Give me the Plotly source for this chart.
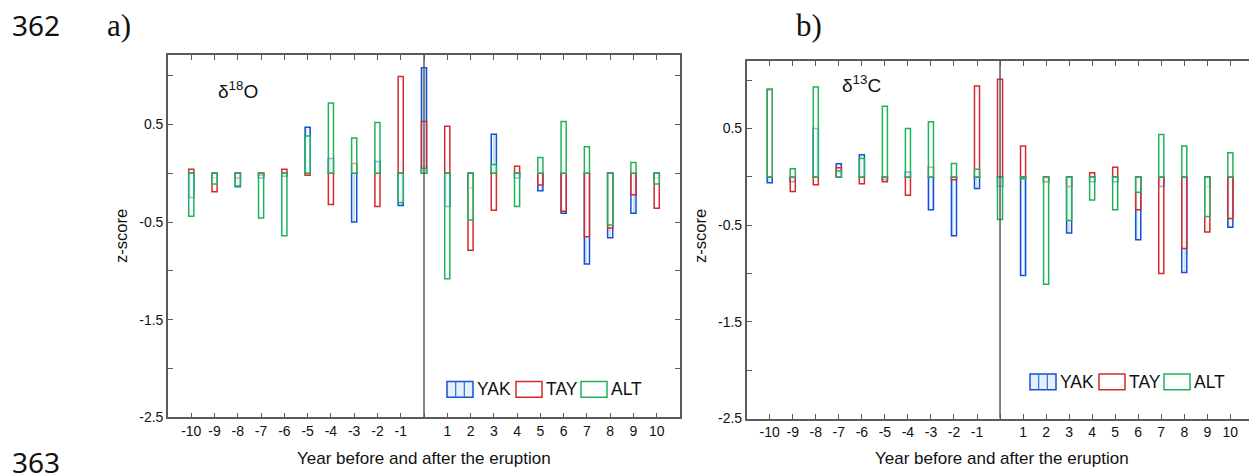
import plotly.graph_objects as go

W, H = 1249, 473

years = list(range(-10, 11))
label_years = [y for y in years if y != 0]
tick_labels = [str(y) for y in label_years]
ytick_vals = [-2.5, -1.5, -0.5, 0.5]
ytick_text = ["-2.5", "-1.5", "-0.5", "0.5"]
yminor_vals = [-2.0, -1.0, 0.0, 1.0]

# Panel a: delta 18O z-scores (years -10 .. 10)
o18_yak = [-0.25, -0.05, -0.14, -0.05, -0.03, 0.47, 0.15, -0.50, 0.12, -0.33, 1.08,
           -0.34, -0.15, 0.40, -0.05, -0.18, -0.41, -0.93, -0.66, -0.41, -0.05]
o18_tay = [0.04, -0.19, -0.05, -0.02, 0.04, -0.02, -0.32, 0.10, -0.34, 0.99, 0.53,
           0.48, -0.79, -0.38, 0.07, -0.12, -0.39, -0.65, -0.56, -0.22, -0.36]
o18_alt = [-0.44, -0.11, -0.13, -0.46, -0.64, 0.38, 0.72, 0.36, 0.52, -0.30, 0.05,
           -1.08, -0.48, 0.09, -0.34, 0.16, 0.53, 0.27, -0.53, 0.11, -0.11]

# Panel b: delta 13C z-scores (years -10 .. 10)
c13_yak = [-0.06, -0.05, 0.50, 0.135, 0.23, -0.03, 0.05, -0.34, -0.61, -0.12, -0.10,
           -1.02, -0.05, -0.58, -0.05, -0.05, -0.65, -0.10, -0.99, -0.10, -0.52]
c13_tay = [0.90, -0.15, -0.08, 0.095, -0.07, -0.05, -0.19, 0.10, -0.03, 0.94, 1.01,
           0.32, -0.05, -0.10, 0.044, 0.10, -0.34, -1.00, -0.74, -0.57, -0.43]
c13_alt = [0.91, 0.085, 0.93, 0.06, 0.19, 0.73, 0.50, 0.57, 0.14, 0.08, -0.44,
           -0.02, -1.11, -0.45, -0.24, -0.34, -0.16, 0.44, 0.32, -0.41, 0.25]

series_names = ["YAK", "TAY", "ALT"]
COL = {"YAK": "#1452d2", "TAY": "#d42a2a", "ALT": "#1fb25a"}
BAR_W = 0.22
FILL = "rgba(255,255,255,0.55)"


def px(X):
    return X / W


def py(Y):
    return 1 - Y / H


fig = go.Figure()


def add_panel(vals, xa, ya):
    for name, v in zip(series_names, vals):
        if name == "YAK":
            marker = dict(color=FILL, line=dict(color=COL[name], width=1.5),
                          pattern=dict(shape="|", fgcolor="#6aa6ee", bgcolor=FILL,
                                       size=4, solidity=0.35))
        else:
            marker = dict(color=FILL, line=dict(color=COL[name], width=1.5))
        fig.add_trace(go.Bar(x=years, y=v, width=BAR_W, name=name, marker=marker,
                             xaxis=xa, yaxis=ya, showlegend=False))


add_panel([o18_yak, o18_tay, o18_alt], "x", "y")
add_panel([c13_yak, c13_tay, c13_alt], "x2", "y2")

AX_COL = "#5a5a5a"
tickfont = dict(family="Liberation Sans, Arial", size=14, color="#111")

common_x = dict(tickvals=label_years, ticktext=tick_labels, ticks="inside", ticklen=5,
                tickcolor=AX_COL, tickwidth=1.2, showline=True, linecolor=AX_COL,
                linewidth=1.6, showgrid=False, zeroline=False, tickfont=tickfont,
                mirror="ticks",
                minor=dict(tickvals=[0], ticks="inside", ticklen=5, tickcolor=AX_COL,
                           tickwidth=1.2, showgrid=False))
common_y = dict(tickvals=ytick_vals, ticktext=ytick_text, ticks="inside", ticklen=5,
                tickcolor=AX_COL, tickwidth=1.2, showline=True, linecolor=AX_COL,
                linewidth=1.6, showgrid=False, zeroline=False, tickfont=tickfont,
                minor=dict(tickvals=yminor_vals, ticks="inside", ticklen=5,
                           tickcolor=AX_COL, tickwidth=1.2, showgrid=False))

fig.update_layout(
    width=W, height=H, margin=dict(l=0, r=0, t=0, b=0),
    paper_bgcolor="white", plot_bgcolor="white", barmode="overlay", showlegend=False,
    xaxis=dict(domain=[px(168), px(680)], range=[-11, 11], anchor="y", **common_x),
    yaxis=dict(domain=[py(424.5), py(56)], range=[-2.5, 1.21], anchor="x",
               mirror="ticks", **common_y),
    xaxis2=dict(domain=[px(746.7), 1.0], range=[-11, 10.81], anchor="y2", **common_x),
    yaxis2=dict(domain=[py(425.7), py(62)], range=[-2.5, 1.2], anchor="x2",
                mirror=False, **common_y),
)

# eruption year reference lines
for xr, yr in (("x", "y domain"), ("x2", "y2 domain")):
    fig.add_shape(type="line", xref=xr, yref=yr, x0=0, x1=0, y0=0, y1=1,
                  line=dict(color=AX_COL, width=1.5))


# manual legends
def legend(x0, y0):
    # x0: left of YAK swatch, y0: top of swatches (pixels)
    sw, sh = 26, 16
    offs = [0, 69, 134]
    for name, o in zip(series_names, offs):
        xl = x0 + o
        fill = "#e6f0fc" if name == "YAK" else "white"
        fig.add_shape(type="rect", xref="paper", yref="paper",
                      x0=px(xl), x1=px(xl + sw), y0=py(y0 + sh), y1=py(y0),
                      line=dict(color=COL[name], width=1.5), fillcolor=fill)
        if name == "YAK":
            for k in (1, 2):
                xx = xl + k * sw / 3
                fig.add_shape(type="line", xref="paper", yref="paper",
                              x0=px(xx), x1=px(xx), y0=py(y0 + sh), y1=py(y0),
                              line=dict(color="#2d6fe0", width=1.2))
        fig.add_annotation(x=px(xl + sw + 2), y=py(y0 + sh / 2), xref="paper",
                           yref="paper", text=name, showarrow=False, xanchor="left",
                           yanchor="middle",
                           font=dict(family="Liberation Sans, Arial", size=17.5,
                                     color="#111"))


legend(447, 388)
legend(1030, 380.5)

texts = [
    dict(x=10, y=25, text="362", xanchor="left",
         font=dict(family="Noto Sans", size=28, color="#111")),
    dict(x=10, y=470, text="363", xanchor="left",
         font=dict(family="Noto Sans", size=28, color="#111")),
    dict(x=105, y=26, text="a)", xanchor="left",
         font=dict(family="Liberation Serif", size=31, color="#111")),
    dict(x=794, y=26, text="b)", xanchor="left",
         font=dict(family="Liberation Serif", size=31, color="#111")),
    dict(x=216, y=92, text="δ<sup>18</sup>O", xanchor="left",
         font=dict(family="Liberation Sans, Arial", size=19, color="#111")),
    dict(x=840, y=85, text="δ<sup>13</sup>C", xanchor="left",
         font=dict(family="Liberation Sans, Arial", size=19, color="#111")),
    dict(x=424, y=466, text="Year before and after the eruption", xanchor="center",
         font=dict(family="Liberation Sans, Arial", size=17, color="#111")),
    dict(x=1002, y=466, text="Year before and after the eruption", xanchor="center",
         font=dict(family="Liberation Sans, Arial", size=17, color="#111")),
    dict(x=121, y=240, text="z-score", xanchor="center", textangle=-90,
         font=dict(family="Liberation Sans, Arial", size=16.5, color="#111")),
    dict(x=700, y=240, text="z-score", xanchor="center", textangle=-90,
         font=dict(family="Liberation Sans, Arial", size=16.5, color="#111")),
]
for t in texts:
    fig.add_annotation(x=px(t["x"]), y=py(t["y"]), xref="paper", yref="paper",
                       text=t["text"], showarrow=False, xanchor=t["xanchor"],
                       yanchor="middle", font=t["font"],
                       textangle=t.get("textangle", 0))

fig.write_html("out.html", config={"displayModeBar": False},
               post_script="document.body.style.margin='0';"
                           "document.body.style.overflow='hidden';")
